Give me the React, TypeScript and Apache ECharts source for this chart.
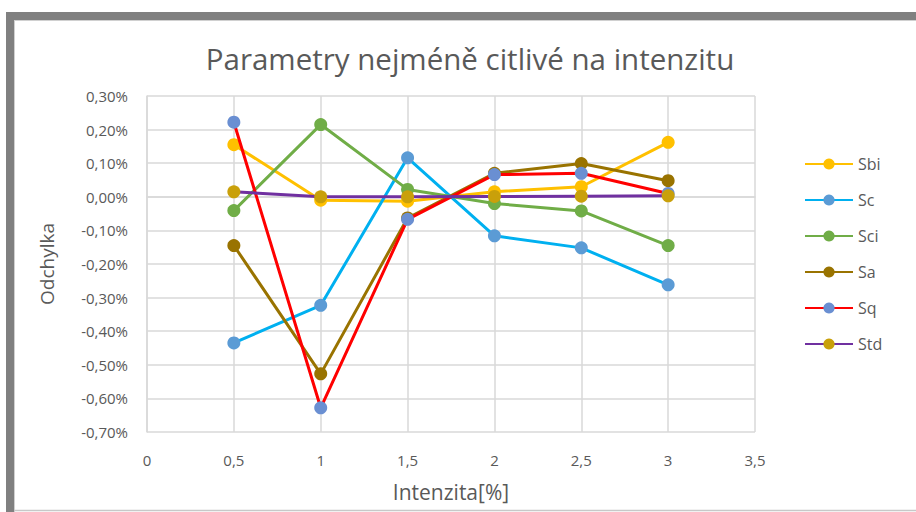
import React, { useEffect, useRef } from "react";
import * as echarts from "echarts";

const xValues = [0.5, 1, 1.5, 2, 2.5, 3];
const seriesNames = ["Sbi", "Sc", "Sci", "Sa", "Sq", "Std"];
// values in percent
const sbi = [0.155, -0.01, -0.013, 0.015, 0.03, 0.162];
const sc = [-0.435, -0.323, 0.116, -0.116, -0.152, -0.262];
const sci = [-0.041, 0.215, 0.022, -0.02, -0.042, -0.145];
const sa = [-0.145, -0.527, -0.063, 0.07, 0.099, 0.048];
const sq = [0.222, -0.628, -0.067, 0.066, 0.07, 0.01];
const std = [0.015, 0.0, 0.0, 0.001, 0.002, 0.003];
const xTicks = [0, 0.5, 1, 1.5, 2, 2.5, 3, 3.5];
const yTicks = [-0.7, -0.6, -0.5, -0.4, -0.3, -0.2, -0.1, 0, 0.1, 0.2, 0.3];

const allValues = [sbi, sc, sci, sa, sq, std];
const lineColors = ["#FFC000", "#00B0F0", "#70AD47", "#997300", "#FF0000", "#7030A0"];
const markerColors = ["#FFC000", "#5B9BD5", "#70AD47", "#997300", "#6A8FD2", "#C9A00A"];

const FONT = "Open Sans";

export default function App() {
  const ref = useRef<HTMLDivElement>(null);
  useEffect(() => {
    if (!ref.current) return;
    const chart = echarts.init(ref.current, undefined, { renderer: "svg" });
    const fmtX = (v: number) => String(v).replace(".", ",");
    const fmtY = (v: number) => v.toFixed(2).replace(".", ",").replace("-0,00", "0,00") + "%";
    chart.setOption({
      animation: false,
      backgroundColor: "#FFFFFF",
      textStyle: { fontFamily: FONT },
      title: {
        text: "Parametry nejméně citlivé na intenzitu",
        left: 465,
        textAlign: "center",
        top: 38,
        textStyle: { color: "#595959", fontSize: 29.5, fontWeight: "normal", fontFamily: FONT },
      },
      graphic: [
        { type: "rect", shape: { x: 6, y: 12, width: 910, height: 8 }, style: { fill: "#808080" }, silent: true },
        { type: "rect", shape: { x: 6, y: 12, width: 8, height: 500 }, style: { fill: "#808080" }, silent: true },
        { type: "line", shape: { x1: 14, y1: 20.5, x2: 916, y2: 20.5 }, style: { stroke: "#D0D0D0", lineWidth: 1 }, silent: true },
        { type: "line", shape: { x1: 14.5, y1: 20, x2: 14.5, y2: 512 }, style: { stroke: "#D0D0D0", lineWidth: 1 }, silent: true },
        { type: "line", shape: { x1: 14, y1: 510.5, x2: 916, y2: 510.5 }, style: { stroke: "#C8C8C8", lineWidth: 1.5 }, silent: true },
      ],
      grid: { left: 147, right: 161, top: 96, bottom: 80 },
      legend: {
        orient: "vertical",
        left: 799,
        top: 151,
        itemWidth: 48,
        itemHeight: 14,
        itemGap: 20,
        textStyle: { color: "#595959", fontSize: 16, fontFamily: FONT },
        data: seriesNames,
      },
      xAxis: {
        type: "value",
        min: xTicks[0],
        max: xTicks[xTicks.length - 1],
        interval: 0.5,
        name: "Intenzita[%]",
        nameLocation: "middle",
        nameGap: 49,
        nameTextStyle: { color: "#595959", fontSize: 21, fontFamily: FONT },
        axisLine: { show: true, lineStyle: { color: "#D9D9D9", width: 1.5 } },
        axisTick: { show: false },
        axisLabel: { color: "#595959", fontSize: 15, margin: 20, formatter: fmtX },
        splitLine: { show: true, lineStyle: { color: "#D9D9D9", width: 1.5 } },
      },
      yAxis: {
        type: "value",
        min: yTicks[0],
        max: yTicks[yTicks.length - 1],
        interval: 0.1,
        name: "Odchylka",
        nameLocation: "middle",
        nameGap: 91,
        nameTextStyle: { color: "#595959", fontSize: 19, fontFamily: FONT },
        axisLine: { show: true, lineStyle: { color: "#D9D9D9", width: 1.5 } },
        axisTick: { show: false },
        axisLabel: { color: "#595959", fontSize: 15, margin: 19, formatter: fmtY },
        splitLine: { show: true, lineStyle: { color: "#D9D9D9", width: 1.5 } },
      },
      series: seriesNames.map((name, i) => ({
        name,
        type: "line",
        data: xValues.map((x, j) => [x, allValues[i][j]]),
        symbol: "circle",
        symbolSize: 13,
        lineStyle: { color: lineColors[i], width: 3 },
        itemStyle: { color: markerColors[i] },
        color: markerColors[i],
        z: 2 + i,
      })),
    });
    return () => chart.dispose();
  }, []);
  return (
    <div
      ref={ref}
      style={{ position: "fixed", left: 0, top: 0, width: 916, height: 512 }}
    />
  );
}
